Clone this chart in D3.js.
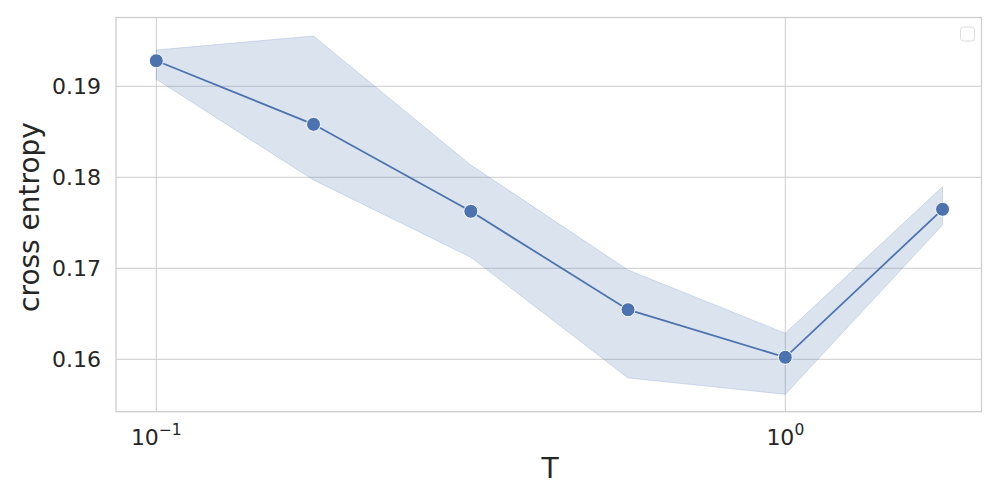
<!DOCTYPE html>
<html><head><meta charset="utf-8">
<script src="https://cdn.jsdelivr.net/npm/d3@7"></script>
<style>body{margin:0;background:#fff}svg{display:block}text{font-family:"DejaVu Sans",sans-serif;fill:#262626}</style>
</head><body><svg id="c" width="1000" height="500"></svg>
<script>
const T = [0.1, 0.1778, 0.3162, 0.5623, 1.0, 1.778];
const meanCE = [0.19281, 0.18582, 0.17626, 0.16545, 0.16022, 0.17648];
const upperCE = [0.19399, 0.19553, 0.18135, 0.16981, 0.16286, 0.17897];
const lowerCE = [0.19077, 0.17970, 0.17121, 0.15795, 0.15615, 0.17476];
const yTicks = [0.16, 0.17, 0.18, 0.19];
const xTicks = [0.1, 1];
const xTickLabels = [["10", "\u22121"], ["10", "0"]];

const svg = d3.select("#c");
const L = 116, R = 981.5, Tp = 17.5, B = 411.7;
const x = d3.scaleLog().domain([Math.pow(10, -1.0641), Math.pow(10, 0.3119)]).range([L, R]);
const y = d3.scaleLinear().domain([0.15424, 0.19756]).range([B, Tp]);

const data = T.map((t, i) => ({t, m: meanCE[i], lo: lowerCE[i], hi: upperCE[i]}));

// grid
const g = svg.append("g");
g.selectAll(".gy").data(yTicks).join("line")
  .attr("x1", L).attr("x2", R).attr("y1", d => y(d)).attr("y2", d => y(d))
  .attr("stroke", "#cccccc").attr("stroke-width", 1);
g.selectAll(".gx").data(xTicks).join("line")
  .attr("y1", Tp).attr("y2", B).attr("x1", d => x(d)).attr("x2", d => x(d))
  .attr("stroke", "#cccccc").attr("stroke-width", 1);

// band
svg.append("path").datum(data)
  .attr("d", d3.area().x(d => x(d.t)).y0(d => y(d.lo)).y1(d => y(d.hi)))
  .attr("fill", "rgba(76,114,176,0.2)").attr("stroke", "rgba(76,114,176,0.2)").attr("stroke-width", 1);

// line
svg.append("path").datum(data)
  .attr("d", d3.line().x(d => x(d.t)).y(d => y(d.m)))
  .attr("fill", "none").attr("stroke", "#4c72b0").attr("stroke-width", 1.75);

svg.selectAll(".pt").data(data).join("circle")
  .attr("cx", d => x(d.t)).attr("cy", d => y(d.m)).attr("r", 7)
  .attr("fill", "#4c72b0").attr("stroke", "#fff").attr("stroke-width", 1);

// spines
svg.append("rect").attr("x", L).attr("y", Tp).attr("width", R - L).attr("height", B - Tp)
  .attr("fill", "none").attr("stroke", "#cccccc").attr("stroke-width", 1.25);

// y tick labels
svg.selectAll(".yl").data(yTicks).join("text")
  .attr("x", 101).attr("y", d => y(d)).attr("dy", "0.36em")
  .attr("text-anchor", "end").attr("font-size", 22)
  .text(d => d3.format(".2f")(d));

// x tick labels
const xl = svg.selectAll(".xl").data(xTicks).join("text")
  .attr("x", d => x(d)).attr("y", 445).attr("text-anchor", "middle").attr("font-size", 22);
xl.append("tspan").text((d, i) => xTickLabels[i][0]);
xl.append("tspan").attr("dy", -10).attr("font-size", 15.5).text((d, i) => xTickLabels[i][1]);

// axis labels
svg.append("text").attr("x", 550).attr("y", 477.5).attr("text-anchor", "middle").attr("font-size", 28).text("T");
svg.append("text").attr("transform", "translate(39,217) rotate(-90)").attr("text-anchor", "middle").attr("font-size", 28).text("cross entropy");

// empty legend
svg.append("rect").attr("x", 960.5).attr("y", 27).attr("width", 14).attr("height", 14).attr("rx", 3)
  .attr("fill", "#fff").attr("stroke", "#dddddd").attr("stroke-width", 1);
</script></body></html>
